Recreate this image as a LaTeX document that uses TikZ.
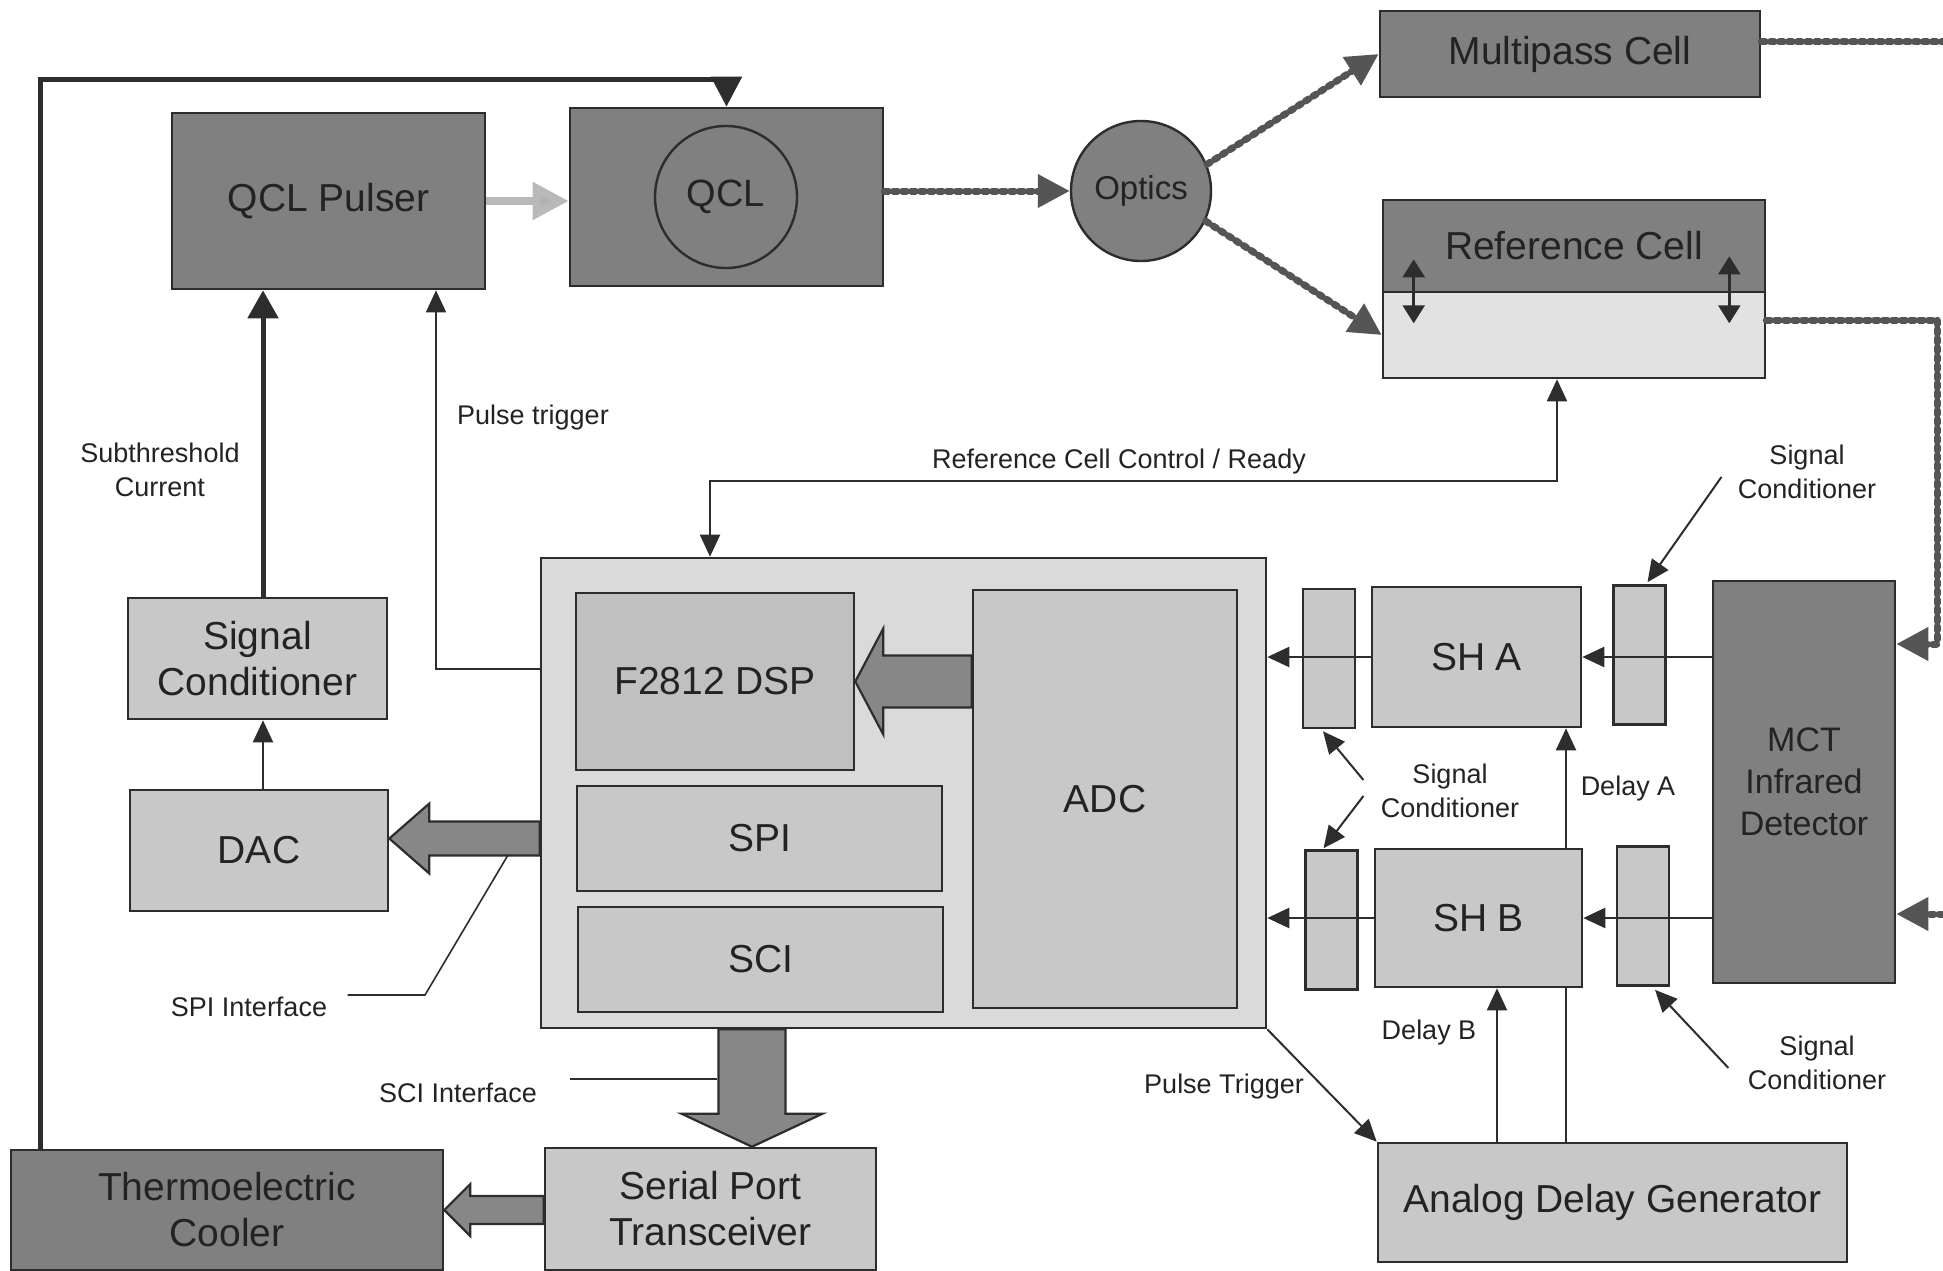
\documentclass[tikz,border=0pt]{standalone}
\usepackage{fontspec}
\setmainfont{Liberation Sans}
\usetikzlibrary{arrows.meta,calc}
\definecolor{dk}{RGB}{128,128,128}
\definecolor{lt}{RGB}{200,200,200}
\definecolor{dspc}{RGB}{192,192,192}
\definecolor{mainc}{RGB}{218,218,218}
\definecolor{refl}{RGB}{226,226,226}
\definecolor{ln}{RGB}{45,45,45}
\definecolor{txt}{RGB}{35,35,35}
\definecolor{laserc}{RGB}{85,85,85}
\definecolor{blkc}{RGB}{135,135,135}
\begin{document}
\begin{tikzpicture}[x=1pt,y=-1pt,
  box/.style={draw=ln, line width=2.6pt, inner sep=0pt, text=txt, align=center, font=\fontsize{39}{46}\selectfont},
  dbox/.style={box, fill=dk},
  lbox/.style={box, fill=lt},
  sbox/.style={draw=ln, line width=2.6pt, fill=lt, inner sep=0pt, minimum width=52pt, minimum height=139pt},
  lab/.style={text=txt, align=center, font=\fontsize{27}{34}\selectfont},
  conn/.style={draw=ln, line width=2pt},
  arr/.style={-{Triangle[length=22pt,width=20pt]}},
  arrb/.style={{Triangle[length=22pt,width=20pt]}-{Triangle[length=22pt,width=20pt]}},
  laser/.style={draw=laserc, line width=7pt, dash pattern=on 4pt off 5pt, line cap=round},
  larr/.style={-{Triangle[length=32pt,width=32pt,fill=laserc]}},
  blk/.style={draw=ln, line width=2.2pt, fill=blkc, line join=miter},
  dblarr/.style={{Triangle[length=18pt,width=22pt]}-{Triangle[length=18pt,width=22pt]}},
]
\useasboundingbox (0,0) rectangle (1943,1271);
\fill[white] (0,0) rectangle (1943,1271);

% ---------- top row ----------
\node[dbox, minimum width=313pt, minimum height=176pt] (pulser) at (328.5,201) {QCL Pulser};
\node[dbox, minimum width=313pt, minimum height=178pt] (qclbox) at (726.5,197) {};
\node[circle, draw=ln, line width=2.4pt, minimum size=142pt, inner sep=0pt, text=txt, font=\fontsize{38}{44}\selectfont] (qcl) at (726,197) {QCL};
\node[circle, draw=ln, line width=2.4pt, fill=dk, minimum size=140pt, inner sep=0pt, text=txt, font=\fontsize{33}{40}\selectfont] (optics) at (1141,191) {Optics};
\node[dbox, minimum width=380pt, minimum height=86pt] (multi) at (1570,54) {Multipass Cell};
\node[box, fill=refl, minimum width=382pt, minimum height=86pt] (refbot) at (1574,335) {};
\node[dbox, minimum width=382pt, minimum height=92pt] (reftop) at (1574,246) {Reference Cell};

% ---------- left column ----------
\node[lbox, minimum width=259pt, minimum height=121pt] (sigc) at (257.5,658.5) {Signal\\Conditioner};
\node[lbox, minimum width=258pt, minimum height=121pt] (dac) at (259,850.5) {DAC};

% ---------- main DSP board ----------
\node[box, fill=mainc, minimum width=725pt, minimum height=470pt] (mainbox) at (903.5,793) {};
\node[box, fill=dspc, minimum width=278pt, minimum height=177pt] (dsp) at (715,681.5) {F2812 DSP};
\node[lbox, minimum width=365pt, minimum height=105pt] (spi) at (759.5,838.5) {SPI};
\node[lbox, minimum width=365pt, minimum height=105pt] (sci) at (760.5,959.5) {SCI};
\node[lbox, minimum width=264pt, minimum height=418pt] (adc) at (1105,799) {ADC};

% ---------- bottom row ----------
\node[lbox, minimum width=331pt, minimum height=122pt] (serial) at (710.5,1209) {Serial Port\\Transceiver};
\node[dbox, minimum width=432pt, minimum height=120pt] (tec) at (227,1210) {Thermoelectric\\Cooler};
\node[lbox, minimum width=469pt, minimum height=119pt] (adg) at (1612.5,1202.5) {Analog Delay Generator};

% ---------- right side ----------
\node[lbox, minimum width=209pt, minimum height=140pt] (sha) at (1476.5,657) {SH A};
\node[lbox, minimum width=207pt, minimum height=138pt] (shb) at (1478.5,918) {SH B};
\node[sbox] (scA1) at (1329,658.5) {};
\node[sbox] (scB1) at (1331.5,920) {};
\node[sbox] (scA2) at (1639.5,655) {};
\node[sbox] (scB2) at (1643,916) {};
\node[dbox, minimum width=182pt, minimum height=402pt, font=\fontsize{34}{42}\selectfont] (mct) at (1804,782) {MCT\\Infrared\\Detector};

% ---------- labels ----------
\node[lab] (lsub) at (160,470) {Subthreshold\\Current};
\node[lab] (lpt) at (533,418) {Pulse trigger};
\node[lab] (lrc) at (1119,462) {Reference Cell Control / Ready};
\node[lab] (lspi) at (249,1007) {SPI Interface};
\node[lab] (lsci) at (458,1093) {SCI Interface};
\node[lab] (lptb) at (1224,1087) {Pulse Trigger};
\node[lab] (lsc1) at (1807,472) {Signal\\Conditioner};
\node[lab] (lsc2) at (1450,791) {Signal\\Conditioner};
\node[lab] (lsc3) at (1817,1063) {Signal\\Conditioner};
\node[lab] (lda) at (1628,789) {Delay A};
\node[lab] (ldb) at (1429,1033) {Delay B};

% ---------- coordinates ----------
\coordinate (fb) at (40,80);
\coordinate (mpE) at (1943,42);
\coordinate (rcC) at (1937,320);
\coordinate (mctA) at (1937,644);
\coordinate (mctB) at (1943,914);
\coordinate (dA) at (1566,0);
\coordinate (dB) at (1497,0);
\coordinate (rcx) at (1557,481);
\coordinate (rcm) at (710,481);
\coordinate (ptc) at (436,669);
\coordinate (stx) at (263,0);
\coordinate (spa) at (425,995);
\coordinate (spb) at (508,855);
\coordinate (sca) at (717,1079);

% ---------- feedback loop ----------
\draw[conn, line width=5pt, -{Triangle[length=30pt,width=30pt]}] (tec.north -| fb) -- (fb) -- (fb -| qclbox.north) -- (qclbox.north);

% pulser -> QCL
\draw[draw=gray!55, line width=8pt, -{Triangle[length=36pt,width=36pt,fill=gray!60]}] (pulser.east) -- (pulser.east -| qclbox.west);

% ---------- laser paths ----------
\draw[laser, larr] (qclbox.east |- optics.west) -- (optics.west);
\draw[laser, larr] (optics.22) -- (multi.west);
\draw[laser, larr] (optics.-25) -- (refbot.west);
\draw[laser] (multi.east |- mpE) -- (mpE);
\draw[laser, larr] (refbot.east |- rcC) -- (rcC) -- (mctA) -- (mctA -| mct.east);
\draw[laser, larr] (mctB) -- (mctB -| mct.east);

% reference cell inner arrows
\draw[conn, line width=2.5pt, dblarr] ($(reftop.south west)+(32,-34)$) coordinate (ra1) -- ($(reftop.south west)+(32,30)$) coordinate (ra2);
\draw[conn, line width=2.5pt, dblarr] ($(reftop.south east)+(-37,-37)$) coordinate (rb1) -- ($(reftop.south east)+(-37,30)$) coordinate (rb2);

% ---------- detector chain ----------
\draw[conn, line width=2.5pt, arr] (mct.west |- sha.east) -- (sha.east);
\draw[conn, line width=2.5pt, arr] (sha.west) -- (sha.west -| mainbox.east);
\draw[conn, line width=2.5pt, arr] (mct.west |- shb.east) -- (shb.east);
\draw[conn, line width=2.5pt, arr] (shb.west) -- (shb.west -| mainbox.east);

% delays
\draw[conn] (adg.north -| dA) -- (shb.south -| dA);
\draw[conn, arr] (shb.north -| dA) -- (sha.south -| dA);
\draw[conn, arr] (adg.north -| dB) -- (shb.south -| dB);
\draw[conn, arr] (mainbox.south east) -- (adg.north west);

% reference cell control
\draw[conn, arrb] (refbot.south -| rcx) -- (rcx) -- (rcm) -- (mainbox.north -| rcm);

% pulse trigger
\draw[conn, line width=1.6pt, arr] (mainbox.west |- ptc) -- (ptc) -- (ptc |- pulser.south);

% subthreshold
\draw[conn, line width=5pt, -{Triangle[length=28pt,width=30pt]}] (sigc.north -| stx) -- (pulser.south -| stx);
\draw[conn, arr] (dac.north -| stx) -- (sigc.south -| stx);

% ---------- block arrows ----------
% main -> DAC
\coordinate (a1t) at ($(dac.east)+(0,-12)$);
\coordinate (a1b) at (a1t -| mainbox.west);
\filldraw[blk] ($(a1b)+(0,-17)$) -- ($(a1t)+(40,-17)$) -- ($(a1t)+(40,-35)$) -- (a1t) -- ($(a1t)+(40,35)$) -- ($(a1t)+(40,17)$) -- ($(a1b)+(0,17)$) -- cycle;
% ADC -> DSP
\coordinate (a2t) at (dsp.east);
\coordinate (a2b) at (adc.west |- dsp.east);
\filldraw[blk] ($(a2b)+(0,-26)$) -- ($(a2t)+(28,-26)$) -- ($(a2t)+(28,-53)$) -- (a2t) -- ($(a2t)+(28,53)$) -- ($(a2t)+(28,26)$) -- ($(a2b)+(0,26)$) -- cycle;
% main -> serial
\coordinate (a3t) at ($(serial.north)+(41.5,0)$);
\coordinate (a3b) at (a3t |- mainbox.south);
\filldraw[blk] ($(a3b)+(-33.5,0)$) -- ($(a3t)+(-33.5,-33)$) -- ($(a3t)+(-70.5,-33)$) -- (a3t) -- ($(a3t)+(70.5,-33)$) -- ($(a3t)+(33.5,-33)$) -- ($(a3b)+(33.5,0)$) -- cycle;
% serial -> TEC
\coordinate (a4t) at (tec.east);
\coordinate (a4b) at (serial.west |- tec.east);
\filldraw[blk] ($(a4b)+(0,-14)$) -- ($(a4t)+(26,-14)$) -- ($(a4t)+(26,-26)$) -- (a4t) -- ($(a4t)+(26,26)$) -- ($(a4t)+(26,14)$) -- ($(a4b)+(0,14)$) -- cycle;

% ---------- label pointers ----------
\draw[conn, line width=1.6pt] ($(lspi.east)+(17,-12)$) -- (spa) -- (spb);
\draw[conn, line width=1.6pt] ($(lsci.east)+(30,-14)$) -- (sca);
\draw[conn, arr] ($(lsc1.west)+(-13,5)$) -- ($(scA2.north)+(8,-2)$);
\draw[conn, arr] ($(lsc2.west)+(-14,-11)$) -- ($(scA1.south)+(-6,2)$);
\draw[conn, arr] ($(lsc2.west)+(-14,5)$) -- ($(scB1.north)+(-8,-1)$);
\draw[conn, arr] ($(lsc3.west)+(-16,5)$) -- ($(scB2.south)+(12,3)$);
\end{tikzpicture}
\end{document}
